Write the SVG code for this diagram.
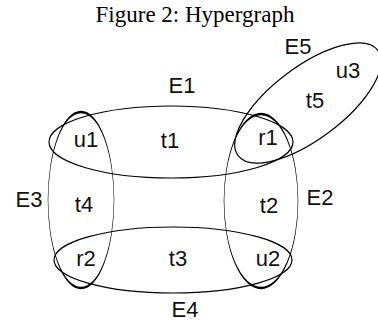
<svg xmlns="http://www.w3.org/2000/svg" width="378" height="322" viewBox="0 0 378 322">
  <style>
    .title { font-family: "Liberation Serif", "Times New Roman", serif; font-size: 23px; fill: #000; }
    .lbl { font-family: "Liberation Sans", Arial, sans-serif; font-size: 22px; fill: #111; }
    .edge { fill: none; stroke: #000; stroke-width: 1.2; }
    .cal { fill: none; stroke: #000; stroke-width: 0.016; }
  </style>
  <rect width="378" height="322" fill="#fff"/>
  <text class="title" x="195" y="22" text-anchor="middle">Figure 2: Hypergraph</text>
  <g id="connectors">
    <g id="E1">
      <ellipse class="edge" cx="171" cy="142" rx="122" ry="36"/>
      <text class="lbl" x="182" y="93" text-anchor="middle">E1</text>
    </g>
    <g id="E2">
      <ellipse class="cal" rx="1" ry="0.6" transform="translate(261,201) scale(37,145)"/>
      <text class="lbl" x="320" y="205" text-anchor="middle">E2</text>
    </g>
    <g id="E3">
      <ellipse class="cal" rx="1" ry="0.6" transform="translate(81,200) scale(33,146.7)"/>
      <text class="lbl" x="29" y="207" text-anchor="middle">E3</text>
    </g>
    <g id="E4">
      <ellipse class="edge" cx="173" cy="260" rx="119" ry="33"/>
      <text class="lbl" x="185" y="317" text-anchor="middle">E4</text>
    </g>
    <g id="E5">
      <ellipse class="edge" rx="87.5" ry="36" transform="translate(308,103) rotate(-37)"/>
      <text class="lbl" x="298" y="54" text-anchor="middle">E5</text>
    </g>
  </g>
  <g id="node-u1"><text class="lbl" x="86" y="147" text-anchor="middle">u1</text></g>
  <g id="node-t1"><text class="lbl" x="170" y="148" text-anchor="middle">t1</text></g>
  <g id="node-r1"><text class="lbl" x="268" y="145" text-anchor="middle">r1</text></g>
  <g id="node-t5"><text class="lbl" x="315" y="108" text-anchor="middle">t5</text></g>
  <g id="node-u3"><text class="lbl" x="348" y="78" text-anchor="middle">u3</text></g>
  <g id="node-t4"><text class="lbl" x="84" y="212" text-anchor="middle">t4</text></g>
  <g id="node-t2"><text class="lbl" x="269" y="213" text-anchor="middle">t2</text></g>
  <g id="node-r2"><text class="lbl" x="86" y="266" text-anchor="middle">r2</text></g>
  <g id="node-t3"><text class="lbl" x="178" y="266" text-anchor="middle">t3</text></g>
  <g id="node-u2"><text class="lbl" x="268" y="266" text-anchor="middle">u2</text></g>
</svg>
